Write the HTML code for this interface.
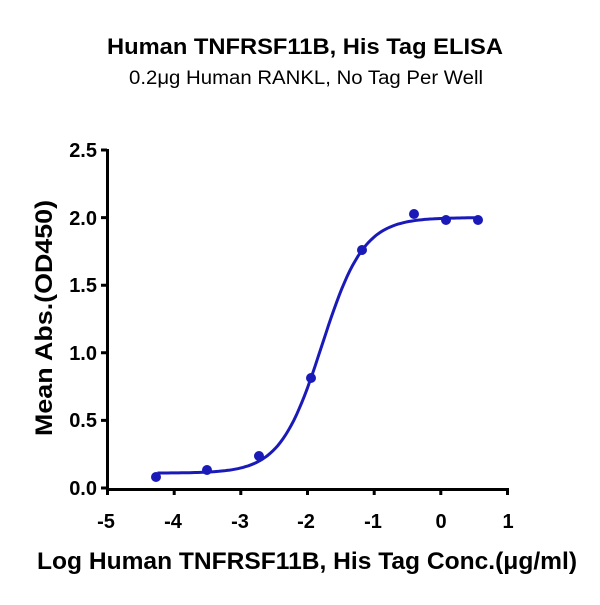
<!DOCTYPE html>
<html><head><meta charset="utf-8"><style>
body{margin:0;background:#fff}
svg text{font-family:"Liberation Sans",sans-serif;font-weight:bold;fill:#000}
</style></head><body>
<svg width="600" height="600" viewBox="0 0 600 600" xmlns="http://www.w3.org/2000/svg">
<text x="305" y="54" text-anchor="middle" font-size="22" textLength="396" lengthAdjust="spacingAndGlyphs">Human TNFRSF11B, His Tag ELISA</text>
<text x="306" y="84" text-anchor="middle" font-size="19" style="font-weight:normal" textLength="354" lengthAdjust="spacingAndGlyphs">0.2μg Human RANKL, No Tag Per Well</text>
<g stroke="#000" stroke-width="3" fill="none">
<path d="M107.5 149 V489.5 H507.5"/>
<path d="M101 150H107M101 217.6H107M101 285.2H107M101 352.8H107M101 420.4H107M101 488H107"/>
<path d="M107.5 488V495M174.2 488V495M240.8 488V495M307.5 488V495M374.2 488V495M440.8 488V495M507.5 488V495"/>
</g>
<g font-size="20" text-anchor="end">
<text x="97" y="157">2.5</text><text x="97" y="225">2.0</text><text x="97" y="292">1.5</text>
<text x="97" y="360">1.0</text><text x="97" y="427">0.5</text><text x="97" y="495">0.0</text>
</g>
<g font-size="20" text-anchor="middle">
<text x="106" y="528">-5</text><text x="173" y="528">-4</text><text x="240" y="528">-3</text>
<text x="306" y="528">-2</text><text x="373" y="528">-1</text><text x="441" y="528">0</text><text x="508" y="528">1</text>
</g>
<text x="307" y="569" text-anchor="middle" font-size="24" textLength="540" lengthAdjust="spacingAndGlyphs">Log Human TNFRSF11B, His Tag Conc.(μg/ml)</text>
<text transform="translate(52,318) rotate(-90)" text-anchor="middle" font-size="24" textLength="236" lengthAdjust="spacingAndGlyphs">Mean Abs.(OD450)</text>
<path id="curve" fill="none" stroke="#1a1ab8" stroke-width="3"/>
<g fill="#1a1ab8">
<circle cx="156" cy="477" r="5"/><circle cx="207" cy="470" r="5"/><circle cx="259" cy="456" r="5"/>
<circle cx="311" cy="378" r="5"/><circle cx="362" cy="250" r="5"/><circle cx="414" cy="214" r="5"/>
<circle cx="446" cy="220" r="5"/><circle cx="478" cy="220" r="5"/>
</g>
</svg>
<script>
var d="";for(var i=0;i<=120;i++){var x=-4.25+i*(4.81/120);var y=0.11+1.89/(1+Math.pow(10,1.386*(-1.784-x)));
var px=107.5+(x+5)*66.67,py=488-y*135.2;d+=(i?"L":"M")+px.toFixed(1)+" "+py.toFixed(1);}
document.getElementById("curve").setAttribute("d",d);
</script>
</body></html>
